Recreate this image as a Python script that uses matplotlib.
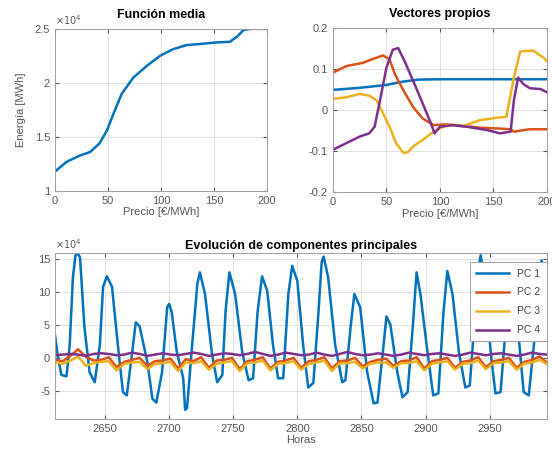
import matplotlib.pyplot as plt
import matplotlib.ticker as mticker
import numpy as np

plt.rcParams['font.family'] = ['Liberation Sans', 'DejaVu Sans']
plt.rcParams['axes.unicode_minus'] = False

# colores por defecto de MATLAB
azul = '#0072BD'
naranja = '#D95319'
amarillo = '#EDB120'
violeta = '#7E2F8E'

# --- Funcion media (x10^4 MWh) ---
precio_media = [0, 11, 24, 33, 42, 49, 55, 63, 74, 87, 99, 111, 124, 137, 153, 165, 172, 178, 185, 200]
energia_media = [1.18, 1.27, 1.33, 1.36, 1.44, 1.56, 1.71, 1.90, 2.05, 2.16, 2.25, 2.31, 2.35, 2.36, 2.375, 2.38, 2.43, 2.49, 2.50, 2.50]

# --- Vectores propios ---
precio_v1 = [0, 25, 50, 65, 80, 100, 150, 200]
vec1 = [0.050, 0.055, 0.062, 0.070, 0.075, 0.076, 0.076, 0.076]
precio_v2 = [0, 12.5, 28, 40, 47, 53, 58, 66, 75, 84, 94, 106, 122, 137, 153, 166, 169, 184, 200]
vec2 = [0.092, 0.108, 0.116, 0.128, 0.134, 0.124, 0.088, 0.048, 0.008, -0.020, -0.036, -0.034,
        -0.038, -0.042, -0.044, -0.046, -0.052, -0.046, -0.046]
precio_v3 = [0, 12.5, 25, 34, 41, 47, 53, 59, 66, 70, 75, 84, 94, 106, 122, 137, 153, 162, 169,
             175, 187, 197, 200]
vec3 = [0.028, 0.032, 0.040, 0.036, 0.024, -0.008, -0.040, -0.080, -0.104, -0.102, -0.088, -0.072,
        -0.052, -0.036, -0.038, -0.024, -0.018, -0.016, 0.080, 0.144, 0.146, 0.128, 0.120]
precio_v4 = [0, 12.5, 25, 34, 39, 44, 50, 56, 61, 67, 75, 84, 91, 95, 100, 112, 125, 144, 156,
             166, 169, 173, 178, 184, 194, 200]
vec4 = [-0.096, -0.080, -0.064, -0.056, -0.040, 0.024, 0.104, 0.148, 0.152, 0.120, 0.072, 0.016,
        -0.028, -0.056, -0.040, -0.036, -0.040, -0.048, -0.056, -0.052, 0.024, 0.080, 0.064,
        0.054, 0.052, 0.044]

# --- Evolucion de componentes principales (x10^4) ---
horas_pc1 = [2611, 2613, 2616, 2620, 2622.5, 2625, 2627, 2628.5, 2630.5, 2634, 2638, 2642, 2646,
             2648.5, 2651.5, 2655.5, 2660, 2664, 2667, 2671, 2674, 2677, 2683, 2687, 2690, 2694.5,
             2698.5, 2700, 2702, 2706, 2710, 2711, 2712.5, 2714, 2718, 2722, 2724, 2728, 2733.5,
             2737.5, 2741.5, 2744, 2747, 2751.5, 2757, 2762, 2765.5, 2769, 2772.5, 2776.5, 2781,
             2785, 2789, 2793, 2796, 2800, 2804.5, 2808.5, 2812.5, 2816.5, 2819, 2820.5, 2824,
             2829.5, 2835, 2837.5, 2841.5, 2844.5, 2849, 2854.5, 2859.5, 2862.5, 2866.5, 2869.5,
             2872.5, 2878, 2882, 2886, 2890, 2893, 2896, 2901.5, 2906, 2910, 2914, 2917, 2921,
             2926, 2931, 2934.5, 2938, 2940.5, 2943, 2946, 2951, 2954.5, 2958.5, 2962.5, 2966,
             2969, 2972, 2976.5, 2980.5, 2984.5, 2988.5, 2990.5, 2995]
pc1 = [3.5, 0.5, -2.6, -2.8, 2.0, 12.3, 15.6, 15.9, 15.3, 4.6, -2.2, -3.7, 2.0,
       10.8, 12.4, 10.8, 2.0, -5.2, -5.7, 0.5, 5.4, 4.8, -0.6, -6.2, -6.8, -2.2,
       7.7, 8.2, 7.0, 0.9, -2.2, -3.1, -7.9, -7.6, 2.0, 11.2, 13.0, 9.7, 0.5,
       -3.7, -2.6, 7.0, 13.0, 9.7, 0.9, -3.4, -3.1, 7.0, 12.4, 10.2, 2.0,
       -3.1, -3.1, 9.7, 14.0, 11.7, 2.0, -4.5, -3.8, 7.0, 14.6, 15.4, 12.3,
       2.0, -3.7, -3.4, 4.6, 9.7, 7.7, -2.2, -6.9, -6.8, 0.5, 6.3,
       5.1, -2.2, -6.0, -5.2, 4.6, 13.0, 9.7, 0.9, -5.7, -5.4, 7.0, 13.2, 9.7,
       0.9, -4.5, -4.2, 5.0, 13.0, 15.6, 12.0, 0.5, -5.4, -5.2, 4.6, 12.5,
       10.0, 4.6, -5.2, -5.7, 2.0, 12.3, 14.8, 10.0]

horas_pc = np.arange(2611, 2996, 6)
pc2 = [-0.3, -0.5, 0.3, 1.3, 0.2, -0.4, -0.3, 0.1, -1.4, -0.6, -0.3, 0.0, -1.2, -0.5, -0.4, -0.1,
       -1.6, -0.2, -0.5, 0.1, -1.5, -0.4, -0.3, 0.0, -1.7, -0.5, -0.3, 0.1, -1.6, -0.6, -0.4, 0.0,
       -1.5, -0.5, -0.3, 0.1, -1.6, -0.5, -0.4, 0.0, -1.3, -0.6, -0.3, -0.1, -1.2, -0.5, -0.4, 0.1,
       -1.6, -0.5, -0.3, 0.0, -1.5, -0.6, -0.4, 0.1, -1.4, -0.5, -0.3, 0.0, -1.5, -0.6, -0.3, 0.2,
       -0.8]
pc3 = [-0.6, -0.9, -0.4, 0.2, -1.2, -0.8, -0.6, -0.5, -1.9, -0.9, -0.7, -0.6, -1.7, -0.9, -0.8, -0.6,
       -2.0, -0.7, -0.8, -0.5, -1.8, -0.9, -0.7, -0.5, -2.0, -0.8, -0.7, -0.4, -1.9, -0.9, -0.8, -0.5,
       -1.8, -0.9, -0.7, -0.4, -2.0, -0.8, -0.8, -0.6, -1.6, -0.9, -0.7, -0.7, -1.5, -0.8, -0.8, -0.5,
       -1.9, -0.9, -0.7, -0.5, -1.8, -0.9, -0.8, -0.4, -1.7, -0.8, -0.7, -0.5, -1.8, -0.9, -0.7, -0.3,
       -1.0]
pc4 = [0.4, 0.5, 0.6, 0.5, 0.3, 0.6, 0.7, 0.6, 0.4, 0.5, 0.8, 0.6, 0.3, 0.5, 0.7, 0.5,
       0.4, 0.6, 0.8, 0.6, 0.3, 0.5, 0.7, 0.6, 0.4, 0.6, 0.9, 0.6, 0.3, 0.5, 0.8, 0.6,
       0.4, 0.5, 0.8, 0.5, 0.3, 0.6, 0.9, 0.6, 0.4, 0.5, 0.7, 0.5, 0.3, 0.5, 0.8, 0.6,
       0.4, 0.6, 0.7, 0.5, 0.3, 0.5, 0.8, 0.6, 0.4, 0.6, 0.7, 0.5, 0.3, 0.5, 0.8, 0.6,
       0.5]
etiquetas_pc = ['PC 1', 'PC 2', 'PC 3', 'PC 4']

gris = '#555555'


def estilo_matlab(ax):
    ax.grid(True, color='#dcdcdc', linewidth=0.6)
    ax.set_axisbelow(True)
    for s in ax.spines.values():
        s.set_color('#a0a0a0')
        s.set_linewidth(0.7)
    ax.tick_params(direction='in', length=3, labelsize=8, colors=gris,
                   top=True, right=True)
    ax.yaxis.set_major_formatter(mticker.FormatStrFormatter('%g'))


def exponente(ax):
    ax.text(0.0, 1.012, r'$\times10^{4}$', transform=ax.transAxes, fontsize=7,
            color=gris, ha='left', va='bottom')


fig = plt.figure(figsize=(5.52, 4.58), dpi=100)

# Funcion media
ax1 = fig.add_axes([0.0996, 0.583, 0.384, 0.354])
ax1.plot(precio_media, energia_media, color=azul, lw=1.8)
ax1.set_xlim(0, 200)
ax1.set_ylim(1, 2.5)
ax1.set_xticks([0, 50, 100, 150, 200])
ax1.set_yticks([1, 1.5, 2, 2.5])
ax1.set_title('Función media', fontsize=9, fontweight='bold', pad=8)
ax1.set_xlabel('Precio [€/MWh]', fontsize=8, color=gris, labelpad=1)
ax1.set_ylabel('Energía [MWh]', fontsize=8, color=gris, labelpad=6)
estilo_matlab(ax1)
exponente(ax1)

# Vectores propios
ax2 = fig.add_axes([0.603, 0.58, 0.388, 0.358])
ax2.plot(precio_v1, vec1, color=azul, lw=1.8)
ax2.plot(precio_v2, vec2, color=naranja, lw=1.8)
ax2.plot(precio_v3, vec3, color=amarillo, lw=1.8)
ax2.plot(precio_v4, vec4, color=violeta, lw=1.8)
ax2.set_xlim(0, 200)
ax2.set_ylim(-0.2, 0.2)
ax2.set_xticks([0, 50, 100, 150, 200])
ax2.set_yticks([-0.2, -0.1, 0, 0.1, 0.2])
ax2.set_title('Vectores propios', fontsize=9, fontweight='bold', pad=8)
ax2.set_xlabel('Precio [€/MWh]', fontsize=8, color=gris, labelpad=1)
estilo_matlab(ax2)

# Evolucion de componentes principales
ax3 = fig.add_axes([0.0996, 0.085, 0.892, 0.362])
l1, = ax3.plot(horas_pc1, pc1, color=azul, lw=1.8)
l2, = ax3.plot(horas_pc, pc2, color=naranja, lw=1.8)
l3, = ax3.plot(horas_pc, pc3, color=amarillo, lw=1.8)
l4, = ax3.plot(horas_pc, pc4, color=violeta, lw=1.8)
ax3.set_xlim(2611, 2995)
ax3.set_ylim(-9.3, 15.9)
ax3.set_xticks([2650, 2700, 2750, 2800, 2850, 2900, 2950])
ax3.set_yticks([-5, 0, 5, 10, 15])
ax3.set_title('Evolución de componentes principales', fontsize=9, fontweight='bold', pad=3)
ax3.set_xlabel('Horas', fontsize=8, color=gris, labelpad=1)
estilo_matlab(ax3)
exponente(ax3)
leg = ax3.legend([l1, l2, l3, l4], etiquetas_pc, loc='upper right',
                 bbox_to_anchor=(0.999, 0.945), borderaxespad=0, fontsize=7.5,
                 handlelength=3.2, fancybox=False, framealpha=1, labelspacing=0.85,
                 borderpad=0.6)
leg.get_frame().set_edgecolor('#a0a0a0')
leg.get_frame().set_linewidth(0.7)
for t in leg.get_texts():
    t.set_color('#444444')

fig.savefig('out.png', dpi=100)
